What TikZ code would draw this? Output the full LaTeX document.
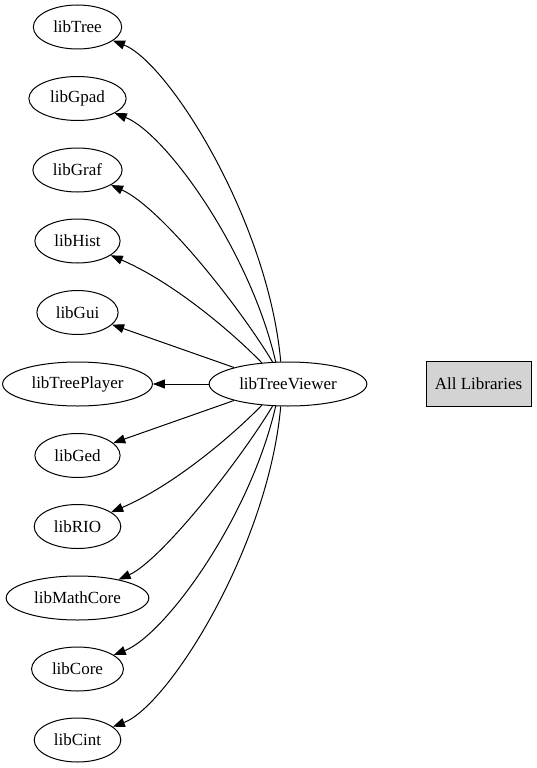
\documentclass[tikz,border=0pt]{standalone}
\usepackage{fontspec}
\setmainfont{Liberation Serif}
\usetikzlibrary{shapes.geometric,arrows.meta}
\definecolor{boxgray}{HTML}{D3D3D3}

\begin{document}
\begin{tikzpicture}[x=1pt,y=-1pt,
    lib/.style={draw,ellipse,line width=1pt,minimum height=44pt,inner xsep=7pt,inner ysep=0pt,font=\fontsize{17}{20}\selectfont},
    dep/.style={-{Triangle[length=12pt,width=9pt]},line width=1pt}]
  \useasboundingbox (0,0) rectangle (537,768);
  \node[lib] (Tree) at (77.5,27) {libTree};
  \node[lib] (Gpad) at (77.5,98.5) {libGpad};
  \node[lib] (Graf) at (77.5,170) {libGraf};
  \node[lib] (Hist) at (77.5,241) {libHist};
  \node[lib] (Gui) at (77.5,312.5) {libGui};
  \node[lib] (TreePlayer) at (77.5,384) {libTreePlayer};
  \node[lib] (TV) at (288,384) {libTreeViewer};
  \node[lib] (Ged) at (77.5,455.5) {libGed};
  \node[lib] (RIO) at (77.5,526.5) {libRIO};
  \node[lib] (MathCore) at (77.5,598) {libMathCore};
  \node[lib] (Core) at (77.5,669) {libCore};
  \node[lib] (Cint) at (77.5,740) {libCint};
  \node[draw,fill=boxgray,line width=1pt,minimum width=105pt,minimum height=45pt,font=\fontsize{17}{20}\selectfont] (All) at (478.5,384) {All Libraries};
  % upper fan
  \draw[dep] (TV.108) .. controls (268,220) and (168,62) .. (Tree);
  \draw[dep] (TV.119) .. controls (250,250) and (165,133) .. (Gpad);
  \draw[dep] (TV.125) .. controls (237,303) and (160,207) .. (Graf);
  \draw[dep] (TV.141) .. controls (235,335) and (175,283) .. (Hist);
  \draw[dep] (TV.163) -- (Gui);
  \draw[dep] (TV) -- (TreePlayer);
  % lower fan
  \draw[dep] (TV.-163) -- (Ged);
  \draw[dep] (TV.-141) .. controls (235,433) and (175,485) .. (RIO);
  \draw[dep] (TV.-125) .. controls (237,465) and (160,561) .. (MathCore);
  \draw[dep] (TV.-119) .. controls (250,518) and (165,635) .. (Core);
  \draw[dep] (TV.-108) .. controls (268,548) and (168,706) .. (Cint);
\end{tikzpicture}
\end{document}
